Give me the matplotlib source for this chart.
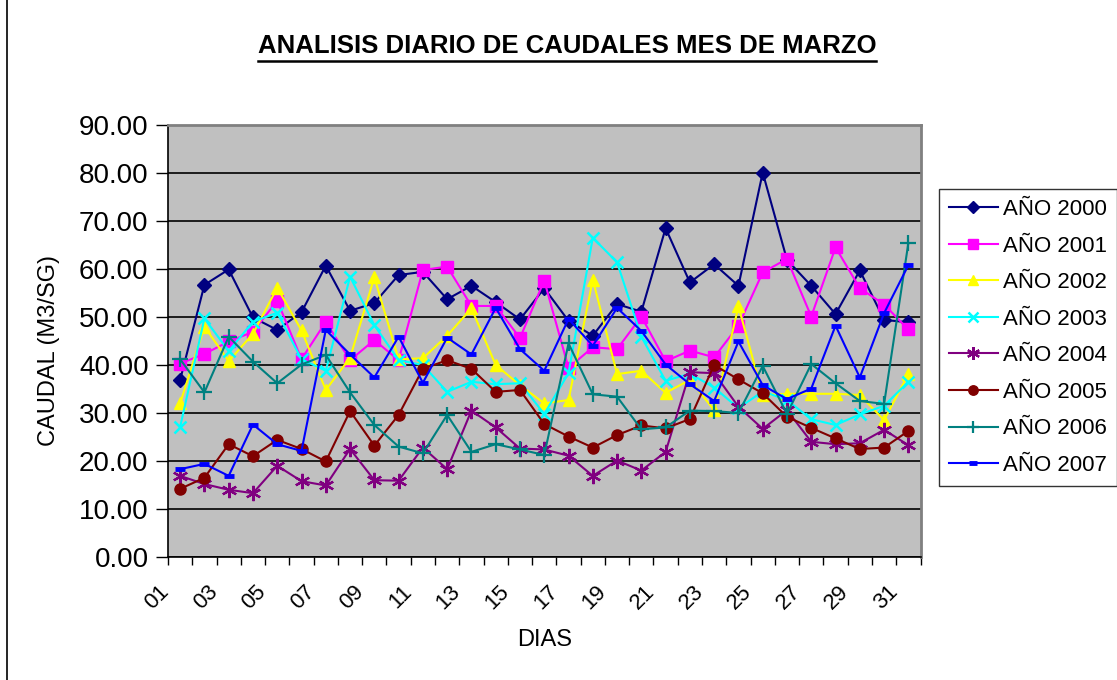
import matplotlib

matplotlib.use("Agg")
import matplotlib.pyplot as plt
from matplotlib.lines import Line2D
from matplotlib.transforms import ScaledTranslation

plt.rcParams["font.family"] = ["Liberation Sans", "DejaVu Sans"]

# --- data ---
DAYS = ["01", "02", "03", "04", "05", "06", "07", "08", "09", "10",
        "11", "12", "13", "14", "15", "16", "17", "18", "19", "20",
        "21", "22", "23", "24", "25", "26", "27", "28", "29", "30", "31"]

Y2000 = [36.9, 56.7, 59.9, 49.9, 47.3, 51.0, 60.7, 51.3, 52.9, 58.75, 59.4,
         53.7, 56.5, 53.1, 49.5, 56.0, 49.2, 46.1, 52.7, 51.1, 68.5, 57.2,
         61.0, 56.5, 80.1, 61.9, 56.5, 50.6, 59.7, 49.4, 48.9]
Y2001 = [40.3, 42.3, 44.9, 46.9, 53.4, 41.2, 49.0, 41.0, 45.2, 41.0, 59.8,
         60.5, 52.3, 52.3, 45.6, 57.6, 39.4, 43.7, 43.3, 50.1, 40.8, 43.0,
         41.6, 48.2, 59.3, 62.1, 50.1, 64.5, 56.0, 52.6, 47.4]
Y2002 = [32.0, 48.0, 40.8, 46.5, 56.1, 47.2, 34.8, 41.5, 58.3, 41.2, 41.4,
         46.1, 51.8, 40.0, 35.8, 32.0, 32.7, 57.8, 38.1, 38.8, 34.2, 36.9,
         30.6, 52.2, 33.75, 34.0, 34.0, 34.0, 33.75, 28.5, 38.1]
Y2003 = [27.1, 49.7, 42.9, 49.0, 50.9, 41.2, 38.8, 58.4, 48.3, 41.0, 40.0,
         34.4, 36.5, 36.0, 36.2, 29.8, 38.3, 66.5, 61.4, 45.9, 36.7, 38.2,
         35.3, 31.0, 34.5, 32.7, 28.7, 27.5, 29.7, 31.5, 36.5]
Y2004 = [16.9, 15.2, 14.0, 13.3, 19.0, 15.8, 14.9, 22.5, 16.0, 15.9, 22.8,
         18.3, 30.5, 27.0, 22.6, 22.4, 21.1, 16.9, 20.1, 18.0, 21.9, 38.5,
         38.3, 31.3, 26.7, 30.6, 24.0, 23.5, 23.7, 26.5, 23.3]
Y2005 = [14.2, 16.5, 23.5, 21.0, 24.4, 22.5, 19.9, 30.4, 23.2, 29.6, 39.2,
         41.0, 39.2, 34.4, 34.8, 27.7, 25.1, 22.8, 25.4, 27.4, 26.8, 28.75,
         40.0, 37.0, 34.1, 29.2, 26.9, 24.7, 22.5, 22.8, 26.25]
Y2006 = [41.2, 34.3, 45.9, 40.7, 36.2, 40.1, 42.1, 34.3, 27.5, 23.0, 21.6,
         29.6, 21.9, 23.5, 22.4, 21.25, 44.5, 33.9, 33.4, 26.6, 27.0, 30.5,
         30.4, 30.0, 39.8, 29.8, 40.2, 36.2, 32.5, 31.9, 65.4]
Y2007 = [18.3, 19.4, 16.9, 27.6, 23.5, 22.1, 47.3, 42.2, 37.4, 45.9, 36.3,
         45.7, 42.2, 51.9, 43.3, 38.8, 49.6, 44.0, 51.9, 47.1, 40.1, 36.0,
         32.5, 44.9, 35.8, 32.9, 35.1, 48.2, 37.4, 50.8, 60.8]

SERIES_NAMES = ["AÑO 2000", "AÑO 2001", "AÑO 2002", "AÑO 2003",
                "AÑO 2004", "AÑO 2005", "AÑO 2006", "AÑO 2007"]
YTICKS = [0, 10, 20, 30, 40, 50, 60, 70, 80, 90]

# Excel-ish styling per series
STYLES = [
    dict(color="#000080", marker="D", ms=7),
    dict(color="#FF00FF", marker="s", ms=8),
    dict(color="#FFFF00", marker="^", ms=9),
    dict(color="#00FFFF", marker="x", ms=9, mew=1.8),
    dict(color="#800080", marker=(6, 2, 0), ms=11, mew=1.6),
    dict(color="#800000", marker="o", ms=8),
    dict(color="#008080", marker="+", ms=11, mew=1.6),
    dict(color="#0000FF", marker="_", ms=7, mew=3.5),
]

fig = plt.figure(figsize=(11.17, 6.80), dpi=100)
fig.patch.set_facecolor("white")
ax = fig.add_axes([168 / 1117, 1 - 557 / 680, 752.5 / 1117, 432 / 680])
ax.set_facecolor("#C0C0C0")

x = list(range(len(DAYS)))
all_series = [Y2000, Y2001, Y2002, Y2003, Y2004, Y2005, Y2006, Y2007]
for ys, name, st in zip(all_series, SERIES_NAMES, STYLES):
    ax.plot(x, ys, color=st["color"], lw=1.5, marker=st["marker"],
            markersize=st["ms"], markeredgewidth=st.get("mew", 1.0),
            markerfacecolor=st["color"], markeredgecolor=st["color"],
            label=name, zorder=3)

ax.set_xlim(-0.5, len(DAYS) - 0.5)
ax.set_ylim(0, 90)

# gridlines
ax.set_yticks(YTICKS)
ax.set_yticklabels([f"{v:.2f}" for v in YTICKS], fontsize=20)
ax.yaxis.grid(True, color="black", lw=1.2)
ax.set_axisbelow(True)
ax.tick_params(axis="y", direction="out", length=9, width=1, pad=5)

# category labels every other day, tick marks between categories
ax.set_xticks(x[::2])
ax.set_xticklabels(DAYS[::2], fontsize=16, rotation=45, ha="right",
                   va="center", rotation_mode="anchor")
ax.set_xticks([i - 0.5 for i in range(len(DAYS) + 1)], minor=True)
ax.tick_params(axis="x", which="major", length=0, pad=23)
ax.tick_params(axis="x", which="minor", direction="out", length=6, width=1)
shift = ScaledTranslation(-0.14, 0, fig.dpi_scale_trans)
for lbl in ax.get_xticklabels():
    lbl.set_transform(lbl.get_transform() + shift)

for side in ["top", "right"]:
    ax.spines[side].set_color("#808080")
    ax.spines[side].set_linewidth(2)
for side in ["left", "bottom"]:
    ax.spines[side].set_color("black")
    ax.spines[side].set_linewidth(1.2)

ax.set_ylabel("CAUDAL (M3/SG)", fontsize=17, va="center")
ax.yaxis.set_label_coords(-0.158, 0.479)
ax.set_xlabel("DIAS", fontsize=17, va="center")
ax.xaxis.set_label_coords(0.501, -0.192)

# title with underline
title = fig.text(567 / 1117, 1 - 46 / 680, "ANALISIS DIARIO DE CAUDALES MES DE MARZO",
                 fontsize=18.5, fontweight="bold", ha="center", va="center")
fig.canvas.draw()
bb = title.get_window_extent().transformed(fig.transFigure.inverted())
fig.add_artist(Line2D([bb.x0, bb.x1], [bb.y0 - 0.004, bb.y0 - 0.004],
                      color="black", lw=1.8, transform=fig.transFigure))

# left chart-area border
fig.add_artist(Line2D([7 / 1117, 7 / 1117], [0, 1], color="black", lw=1.2,
                      transform=fig.transFigure))

leg = fig.legend(loc="upper left", bbox_to_anchor=(939 / 1117, 1 - 189 / 680),
                 fontsize=16, frameon=True, fancybox=False, handlelength=2.2,
                 handletextpad=0.25, labelspacing=0.7, borderpad=0.45,
                 borderaxespad=0)
leg.get_frame().set_edgecolor("black")
leg.get_frame().set_linewidth(1.0)
for h in leg.legend_handles:
    h.set_markersize(h.get_markersize() * 0.85)

fig.savefig("out.png", dpi=100, facecolor="white")
plt.close(fig)
